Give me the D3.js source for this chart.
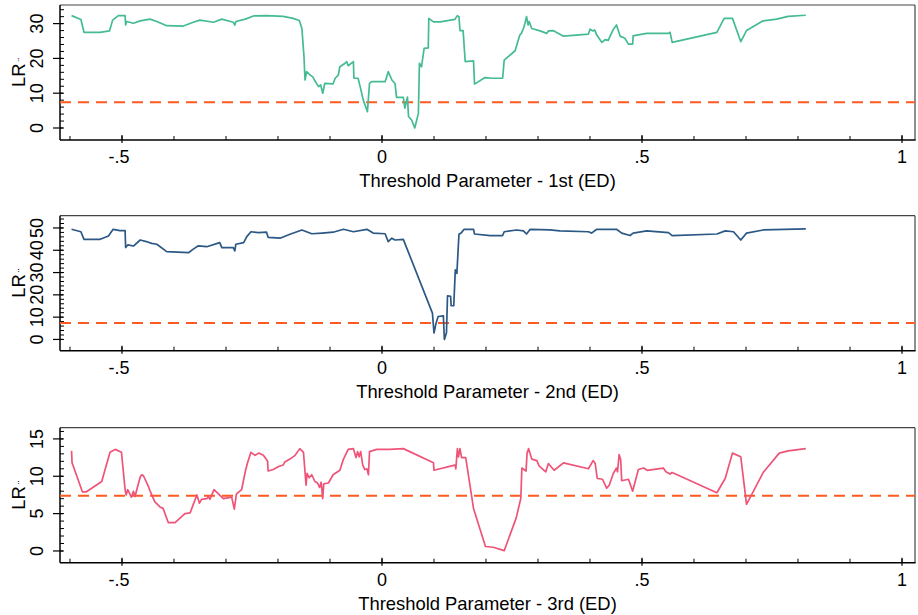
<!DOCTYPE html>
<html>
<head>
<meta charset="utf-8">
<script src="https://cdn.jsdelivr.net/npm/d3@7"></script>
<style>
  body { margin: 0; background: #fff; }
  svg text { font-family: "Liberation Sans", Arial, sans-serif; fill: #000; }
</style>
</head>
<body>
<svg id="chart" width="918" height="615"></svg>
<script>
// threshold value of the LR statistic (dashed line)
const critical = 7.38;

// 1st threshold (ED)
const x1 = [-0.597,-0.579,-0.573,-0.542,-0.524,-0.518,-0.507,-0.494,-0.493,-0.491,-0.478,-0.465,-0.446,-0.433,-0.414,-0.382,-0.363,-0.35,-0.324,-0.308,-0.286,-0.283,-0.281,-0.263,-0.247,-0.222,-0.19,-0.171,-0.159,-0.154,-0.15,-0.148,-0.145,-0.138,-0.133,-0.13,-0.122,-0.118,-0.114,-0.11,-0.094,-0.09,-0.084,-0.081,-0.071,-0.068,-0.065,-0.055,-0.054,-0.046,-0.042,-0.036,-0.028,-0.024,-0.02,0.006,0.012,0.019,0.025,0.028,0.041,0.044,0.049,0.051,0.057,0.063,0.07,0.072,0.076,0.081,0.089,0.09,0.099,0.112,0.14,0.145,0.148,0.15,0.156,0.16,0.176,0.178,0.198,0.211,0.232,0.235,0.256,0.265,0.268,0.272,0.275,0.278,0.281,0.283,0.288,0.304,0.317,0.32,0.329,0.349,0.397,0.4,0.406,0.409,0.413,0.423,0.429,0.435,0.445,0.451,0.458,0.467,0.474,0.482,0.483,0.49,0.509,0.551,0.554,0.558,0.644,0.658,0.674,0.69,0.701,0.733,0.759,0.781,0.815];
const y1 = [32.3,31.2,27.5,27.5,27.9,31,32.3,32.3,29.6,30.6,30.1,30.8,31.3,30.6,29.4,29.3,30.4,31,30.4,31.3,30.4,29.6,30.6,31.3,32.2,32.3,32.1,31.5,30.9,28.6,20.5,13.8,16.2,15.2,14.7,13.8,11.9,12.4,10,12.8,12.7,14.3,15.2,17.6,18.6,19.1,17.9,19.1,14.3,14.3,11.9,8.0,4.7,12.8,13.3,13.3,16.2,13.8,12.8,8.8,8.8,5.7,8.9,3.3,2.3,0,4.2,18.6,17.6,22.9,23,31.5,30.5,30.5,31.2,32.3,32,28,28,19.1,19.3,12.6,14.5,14.3,14.3,19.5,22.2,26.7,27.2,28.6,30.1,32,29.6,30.6,28.6,27.9,27.2,27.9,28,26.4,27,28.4,27.9,28.2,26.7,24.6,25.4,25.2,28.4,29.6,26.4,25.8,24.1,24.1,26.5,26.7,27.2,27.2,27.5,24.6,27.5,31.5,31.5,24.8,28,30.8,31.3,32.1,32.4];

// 2nd threshold (ED)
const x2 = [-0.597,-0.579,-0.573,-0.542,-0.526,-0.517,-0.504,-0.494,-0.493,-0.489,-0.478,-0.465,-0.453,-0.443,-0.433,-0.414,-0.372,-0.363,-0.353,-0.337,-0.312,-0.308,-0.286,-0.283,-0.281,-0.266,-0.26,-0.252,-0.238,-0.222,-0.219,-0.196,-0.177,-0.154,-0.135,-0.115,-0.094,-0.074,-0.055,-0.029,-0.017,0.006,0.012,0.019,0.025,0.041,0.097,0.1,0.104,0.108,0.118,0.12,0.124,0.126,0.132,0.133,0.138,0.141,0.144,0.148,0.152,0.158,0.176,0.178,0.208,0.232,0.235,0.259,0.272,0.278,0.285,0.323,0.342,0.397,0.403,0.413,0.451,0.461,0.477,0.483,0.509,0.551,0.558,0.644,0.66,0.676,0.69,0.701,0.733,0.815];
const y2 = [49.4,48.3,44.9,44.9,46.4,49.4,48.8,48.8,41.2,42.4,41.9,44.6,43.9,43.1,42.7,39.4,38.9,40.5,42,41.6,43.4,41.2,41.2,39.7,42.7,43.4,46.1,48.3,47.9,48.1,45.8,45.4,47.2,49.1,47.4,47.7,48.1,49.4,48.3,49.4,47.7,47.4,43.9,45.4,44.6,44.9,11.8,2.9,7.3,10.3,10.6,0,3,19.6,19.3,15.1,15.1,31.2,29.6,47.2,47.7,49.4,49.4,47.3,46.6,46.6,48.3,49.1,48.7,47.3,49.4,49.1,48.7,48.3,47.7,49.4,49.4,47.7,46.6,47.7,48.7,47.9,46.6,47.3,48.7,48.3,44.6,47.7,49.1,49.6];

// 3rd threshold (ED)
const x3 = [-0.597,-0.596,-0.576,-0.569,-0.539,-0.523,-0.513,-0.504,-0.501,-0.494,-0.492,-0.489,-0.482,-0.478,-0.475,-0.465,-0.462,-0.459,-0.449,-0.447,-0.444,-0.437,-0.427,-0.421,-0.411,-0.398,-0.379,-0.369,-0.363,-0.356,-0.351,-0.347,-0.337,-0.334,-0.331,-0.323,-0.305,-0.289,-0.284,-0.28,-0.27,-0.263,-0.259,-0.252,-0.244,-0.237,-0.228,-0.22,-0.219,-0.209,-0.199,-0.19,-0.187,-0.177,-0.167,-0.158,-0.151,-0.146,-0.144,-0.14,-0.135,-0.129,-0.124,-0.12,-0.117,-0.114,-0.112,-0.103,-0.094,-0.081,-0.074,-0.065,-0.055,-0.05,-0.047,-0.044,-0.041,-0.037,-0.033,-0.029,-0.026,-0.024,-0.01,0.015,0.041,0.099,0.1,0.14,0.141,0.142,0.145,0.147,0.15,0.153,0.161,0.176,0.199,0.214,0.235,0.258,0.267,0.269,0.277,0.279,0.282,0.288,0.298,0.302,0.315,0.32,0.331,0.349,0.397,0.406,0.41,0.414,0.424,0.432,0.437,0.445,0.451,0.453,0.456,0.459,0.461,0.474,0.482,0.493,0.503,0.51,0.541,0.546,0.554,0.558,0.644,0.66,0.674,0.69,0.701,0.733,0.764,0.781,0.815];
const y3 = [13.4,11.8,7.9,7.9,9.3,13.2,13.6,13.3,13.2,8.2,7.5,8.2,7.2,8,7.3,9.9,10.2,10.1,8.6,8.2,7.7,6.6,5.9,5.7,3.8,3.8,5,5.1,6.2,7.5,6.4,6.9,7,7.3,6.9,8.2,7,7.2,5.6,7.6,8.2,10.6,11.7,13.2,12.8,13.1,12.8,12,10.7,10.9,11.3,11.5,11.9,12.3,12.8,13.7,13.2,8.8,10.4,9.8,10.2,9.3,9.1,8.5,9.2,7.0,9,9.1,10.2,10.8,12.3,13.6,13.7,12.5,13.3,12.6,13.3,11.5,10.9,11,10.2,13.3,13.6,13.6,13.7,11.8,10.8,11.5,11.4,11.0,13.7,12.6,13.7,12.5,12.5,5.7,0.6,0.5,0.04,4.4,7.05,11.1,10.7,13.1,13.7,12.3,12.1,11.4,10.6,11.7,10.8,11.8,11.0,12.1,11.7,9.7,9.6,8.4,8.8,10.4,11.1,10.6,12.9,12.2,9.4,9.6,8.0,10.9,11.1,10.8,11.1,10.6,10.3,10.5,7.8,9.7,13.1,12.6,6.25,10.5,13.1,13.4,13.7];

// axis ticks
const xTicks = [-0.5, 0, 0.5, 1];
const xTickLabels = ["-.5", "0", ".5", "1"];

const panels = [
  { xs: x1, ys: y1, color: "#45bb94", top: 5,     yDomain: [-3.45, 35.35], yTicks: [0, 10, 20, 30], yMinor: 2, title: "Threshold Parameter - 1st (ED)" },
  { xs: x2, ys: y2, color: "#2b5884", top: 215.7, yDomain: [-5.05, 55.5],  yTicks: [0, 10, 20, 30, 40, 50], yMinor: 2, title: "Threshold Parameter - 2nd (ED)" },
  { xs: x3, ys: y3, color: "#ef5478", top: 427.7, yDomain: [-1.57, 16.5],  yTicks: [0, 5, 10, 15], yMinor: 1, title: "Threshold Parameter - 3rd (ED)" }
];

const svg = d3.select("#chart");
const left = 60, right = 915, panelH = 135;

const x = d3.scaleLinear().domain([-0.6192, 1.025]).range([left, right]);

panels.forEach(p => {
  const bottom = p.top + panelH;
  const y = d3.scaleLinear().domain(p.yDomain).range([bottom, p.top]);
  const g = svg.append("g");

  // frame (top/right lighter)
  g.append("line").attr("x1", left).attr("x2", right).attr("y1", p.top).attr("y2", p.top)
    .attr("stroke", "#444").attr("stroke-width", 1.2);
  g.append("line").attr("x1", right).attr("x2", right).attr("y1", p.top).attr("y2", bottom)
    .attr("stroke", "#444").attr("stroke-width", 1.2);

  // minor ticks
  const xMinor = d3.range(-6, 11).map(d => d / 10);
  g.selectAll(".xminor").data(xMinor).enter().append("line")
    .attr("x1", d => x(d)).attr("x2", d => x(d))
    .attr("y1", bottom).attr("y2", bottom - 4)
    .attr("stroke", "#000").attr("stroke-width", 1);
  const yMinor = d3.range(0, p.yDomain[1], p.yMinor);
  g.selectAll(".yminor").data(yMinor).enter().append("line")
    .attr("x1", left).attr("x2", left + 4)
    .attr("y1", d => y(d)).attr("y2", d => y(d))
    .attr("stroke", "#000").attr("stroke-width", 1);

  // major ticks
  g.selectAll(".xmajor").data(xTicks).enter().append("line")
    .attr("x1", d => x(d)).attr("x2", d => x(d))
    .attr("y1", bottom - 5).attr("y2", bottom + 3)
    .attr("stroke", "#000").attr("stroke-width", 1.2);
  g.selectAll(".ymajor").data(p.yTicks).enter().append("line")
    .attr("x1", left - 7).attr("x2", left + 3)
    .attr("y1", d => y(d)).attr("y2", d => y(d))
    .attr("stroke", "#000").attr("stroke-width", 1.2);

  // axis lines
  g.append("line").attr("x1", left).attr("x2", right + 0.6).attr("y1", bottom).attr("y2", bottom)
    .attr("stroke", "#000").attr("stroke-width", 1.5);
  g.append("line").attr("x1", left).attr("x2", left).attr("y1", p.top).attr("y2", bottom)
    .attr("stroke", "#000").attr("stroke-width", 1.5);

  // tick labels
  g.selectAll(".xlab").data(xTicks).enter().append("text")
    .attr("x", (d, i) => x(d) - (xTickLabels[i].startsWith("-") ? 3 : 0))
    .attr("y", bottom + 23)
    .attr("text-anchor", "middle").attr("font-size", 18)
    .text((d, i) => xTickLabels[i]);
  g.selectAll(".ylab").data(p.yTicks).enter().append("text")
    .attr("transform", d => `translate(${left - 17},${y(d)}) rotate(-90)`)
    .attr("text-anchor", "middle").attr("font-size", 18)
    .text(d => d);

  // axis titles
  g.append("text").attr("x", (left + right) / 2).attr("y", bottom + 47)
    .attr("text-anchor", "middle").attr("font-size", 18.4).text(p.title);
  const yt = g.append("text")
    .attr("transform", `translate(25,${(p.top + bottom) / 2}) rotate(-90)`)
    .attr("text-anchor", "middle").attr("font-size", 18.4);
  yt.append("tspan").text("LR");
  yt.append("tspan").attr("font-size", 11).attr("dy", 1).attr("dx", 2).text("¨");

  // critical value
  g.append("line").attr("x1", left).attr("x2", right).attr("y1", y(critical)).attr("y2", y(critical))
    .attr("stroke", "#ff5a1f").attr("stroke-width", 2).attr("stroke-dasharray", "11,7");

  // LR series
  const pts = p.xs.map((d, i) => [d, p.ys[i]]);
  const line = d3.line().x(d => x(d[0])).y(d => y(d[1]));
  g.append("path").datum(pts).attr("d", line)
    .attr("fill", "none").attr("stroke", p.color).attr("stroke-width", 1.7)
    .attr("stroke-linejoin", "round");
});
</script>
</body>
</html>
